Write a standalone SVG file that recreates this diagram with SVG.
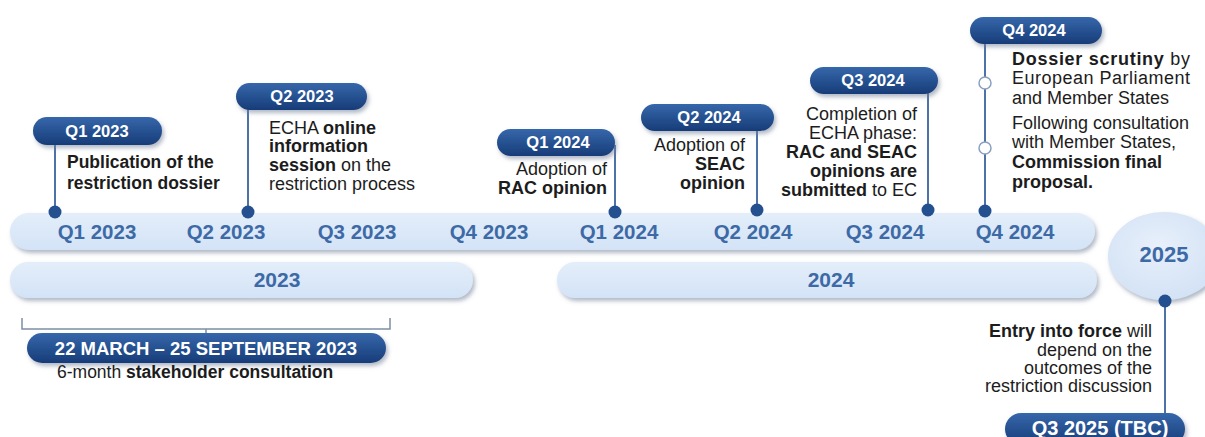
<svg xmlns="http://www.w3.org/2000/svg" width="1205" height="437" viewBox="0 0 1205 437">
  <defs>
    <linearGradient id="pillGrad" x1="0" y1="0" x2="0" y2="1">
      <stop offset="0" stop-color="#3667ab"/>
      <stop offset="1" stop-color="#173c78"/>
    </linearGradient>
    <linearGradient id="barGrad" x1="0" y1="0" x2="0" y2="1">
      <stop offset="0" stop-color="#e4eefa"/>
      <stop offset="1" stop-color="#d3e3f6"/>
    </linearGradient>
    <radialGradient id="discGrad" cx="0.45" cy="0.4" r="0.7">
      <stop offset="0" stop-color="#e8f0fb"/>
      <stop offset="1" stop-color="#d0e0f4"/>
    </radialGradient>
    <filter id="shadow" x="-10%" y="-30%" width="120%" height="180%">
      <feDropShadow dx="2" dy="3" stdDeviation="2" flood-color="#6f7f96" flood-opacity="0.55"/>
    </filter>
  </defs>
  <style>
    text { font-family: "Liberation Sans", Arial, sans-serif; }
    .pill { fill: url(#pillGrad); filter: url(#shadow); }
    .pillText { fill: #ffffff; font-size: 16.5px; font-weight: bold; text-anchor: middle; }
    .bar { fill: url(#barGrad); filter: url(#shadow); }
    .barText { fill: #3d6aa6; font-size: 20.5px; font-weight: bold; text-anchor: middle; }
    .yearText { fill: #3d6aa6; font-size: 21px; font-weight: bold; text-anchor: middle; }
    .body { fill: #1c1c1c; font-size: 18px; }
    .b { font-weight: bold; }
    .stem { stroke: #4d72a8; stroke-width: 2; fill: none; }
    .dot { fill: #24508f; }
    .ring { fill: #ffffff; stroke: #8aa0c0; stroke-width: 1.5; }
    .bracket { stroke: #7d8ea6; stroke-width: 1.5; fill: none; }
  </style>

  <rect width="1205" height="437" fill="#ffffff"/>

  <!-- timeline bars -->
  <g id="quarters">
    <rect class="bar" x="10" y="213" width="1085" height="37" rx="18.5"/>
    <text class="barText" x="97" y="239">Q1 2023</text>
    <text class="barText" x="226" y="239">Q2 2023</text>
    <text class="barText" x="357" y="239">Q3 2023</text>
    <text class="barText" x="489" y="239">Q4 2023</text>
    <text class="barText" x="619" y="239">Q1 2024</text>
    <text class="barText" x="753" y="239">Q2 2024</text>
    <text class="barText" x="885" y="239">Q3 2024</text>
    <text class="barText" x="1015" y="239">Q4 2024</text>
  </g>
  <g id="year2023">
    <rect class="bar" x="10" y="262" width="463" height="36" rx="18"/>
    <text class="yearText" x="277" y="287">2023</text>
  </g>
  <g id="year2024">
    <rect class="bar" x="557" y="262" width="540" height="36" rx="18"/>
    <text class="yearText" x="831" y="287">2024</text>
  </g>
  <g id="year2025">
    <ellipse cx="1164" cy="256" rx="56" ry="44" fill="url(#discGrad)" filter="url(#shadow)"/>
    <text class="yearText" x="1164" y="262" style="font-size:22px">2025</text>
  </g>

  <!-- connectors: stems, dots, bracket -->
  <g id="connectors">
    <line class="stem" x1="55" y1="140" x2="55" y2="212"/>
    <line class="stem" x1="248" y1="105" x2="248" y2="212"/>
    <line class="stem" x1="615" y1="145" x2="615" y2="212"/>
    <line class="stem" x1="757" y1="122" x2="757" y2="210"/>
    <line class="stem" x1="928" y1="88" x2="928" y2="210"/>
    <line class="stem" x1="985" y1="40" x2="985" y2="211"/>
    <line class="stem" x1="1165" y1="300" x2="1165" y2="416"/>
    <circle class="dot" cx="55" cy="212" r="6.5"/>
    <circle class="dot" cx="248" cy="212" r="6.5"/>
    <circle class="dot" cx="615" cy="212" r="6.5"/>
    <circle class="dot" cx="757" cy="210" r="6.5"/>
    <circle class="dot" cx="928" cy="210" r="6.5"/>
    <circle class="dot" cx="985" cy="211" r="6.5"/>
    <circle class="dot" cx="1165" cy="301" r="6.5"/>
    <circle class="ring" cx="985" cy="83" r="6"/>
    <circle class="ring" cx="985" cy="148" r="6"/>
    <path class="bracket" d="M22,318 V329 H390 V318 M206,329 V336"/>
  </g>

  <!-- milestones -->
  <g id="q1-2023">
    <rect class="pill" x="33" y="117" width="129" height="28" rx="14"/>
    <text class="pillText" x="97" y="137">Q1 2023</text>
    <text class="body b" x="67" y="168" style="font-size:17.5px">Publication of the</text>
    <text class="body b" x="67" y="189" style="font-size:17.5px">restriction dossier</text>
  </g>
  <g id="q2-2023">
    <rect class="pill" x="236" y="83" width="131" height="27" rx="13.5"/>
    <text class="pillText" x="302" y="102">Q2 2023</text>
    <text class="body" x="269" y="134">ECHA <tspan class="b">online</tspan></text>
    <text class="body b" x="269" y="152">information</text>
    <text class="body" x="269" y="171"><tspan class="b">session</tspan> on the</text>
    <text class="body" x="269" y="190">restriction process</text>
  </g>
  <g id="q1-2024">
    <rect class="pill" x="497" y="129" width="118" height="27" rx="13.5"/>
    <text class="pillText" x="558" y="148">Q1 2024</text>
    <text class="body" x="607" y="175" text-anchor="end">Adoption of</text>
    <text class="body b" x="607" y="194" text-anchor="end">RAC opinion</text>
  </g>
  <g id="q2-2024">
    <rect class="pill" x="641" y="104" width="133" height="27" rx="13.5"/>
    <text class="pillText" x="709" y="123">Q2 2024</text>
    <text class="body" x="745" y="151" text-anchor="end">Adoption of</text>
    <text class="body b" x="745" y="170" text-anchor="end">SEAC</text>
    <text class="body b" x="745" y="189" text-anchor="end">opinion</text>
  </g>
  <g id="q3-2024">
    <rect class="pill" x="810" y="67" width="128" height="27" rx="13.5"/>
    <text class="pillText" x="873" y="86">Q3 2024</text>
    <text class="body" x="917" y="120" text-anchor="end">Completion of</text>
    <text class="body" x="917" y="139" text-anchor="end">ECHA phase:</text>
    <text class="body b" x="917" y="158" text-anchor="end">RAC and SEAC</text>
    <text class="body b" x="917" y="177" text-anchor="end">opinions are</text>
    <text class="body" x="917" y="196" text-anchor="end"><tspan class="b">submitted</tspan> to EC</text>
  </g>
  <g id="q4-2024">
    <rect class="pill" x="970" y="17" width="132" height="27" rx="13.5"/>
    <text class="pillText" x="1034" y="36">Q4 2024</text>
    <text class="body" x="1012" y="65" textLength="178" lengthAdjust="spacing"><tspan class="b">Dossier scrutiny</tspan> by</text>
    <text class="body" x="1012" y="84" textLength="178" lengthAdjust="spacing">European Parliament</text>
    <text class="body" x="1012" y="104">and Member States</text>
    <text class="body" x="1012" y="129">Following consultation</text>
    <text class="body" x="1012" y="148">with Member States,</text>
    <text class="body b" x="1012" y="168">Commission final</text>
    <text class="body b" x="1012" y="188">proposal.</text>
  </g>
  <g id="q3-2025">
    <rect class="pill" x="1005" y="413" width="180" height="32" rx="16"/>
    <text class="pillText" x="1100" y="435" style="font-size:20px">Q3 2025 (TBC)</text>
    <text class="body" x="1152" y="337" text-anchor="end"><tspan class="b">Entry into force</tspan> will</text>
    <text class="body" x="1152" y="356" text-anchor="end">depend on the</text>
    <text class="body" x="1152" y="374" text-anchor="end">outcomes of the</text>
    <text class="body" x="1152" y="392" text-anchor="end">restriction discussion</text>
  </g>
  <g id="consultation">
    <rect class="pill" x="27" y="333" width="359" height="30" rx="15"/>
    <text class="pillText" x="206" y="355" style="font-size:18.5px">22 MARCH – 25 SEPTEMBER 2023</text>
    <text class="body" x="57" y="378" style="font-size:17.5px">6-month <tspan class="b">stakeholder consultation</tspan></text>
  </g>
</svg>
